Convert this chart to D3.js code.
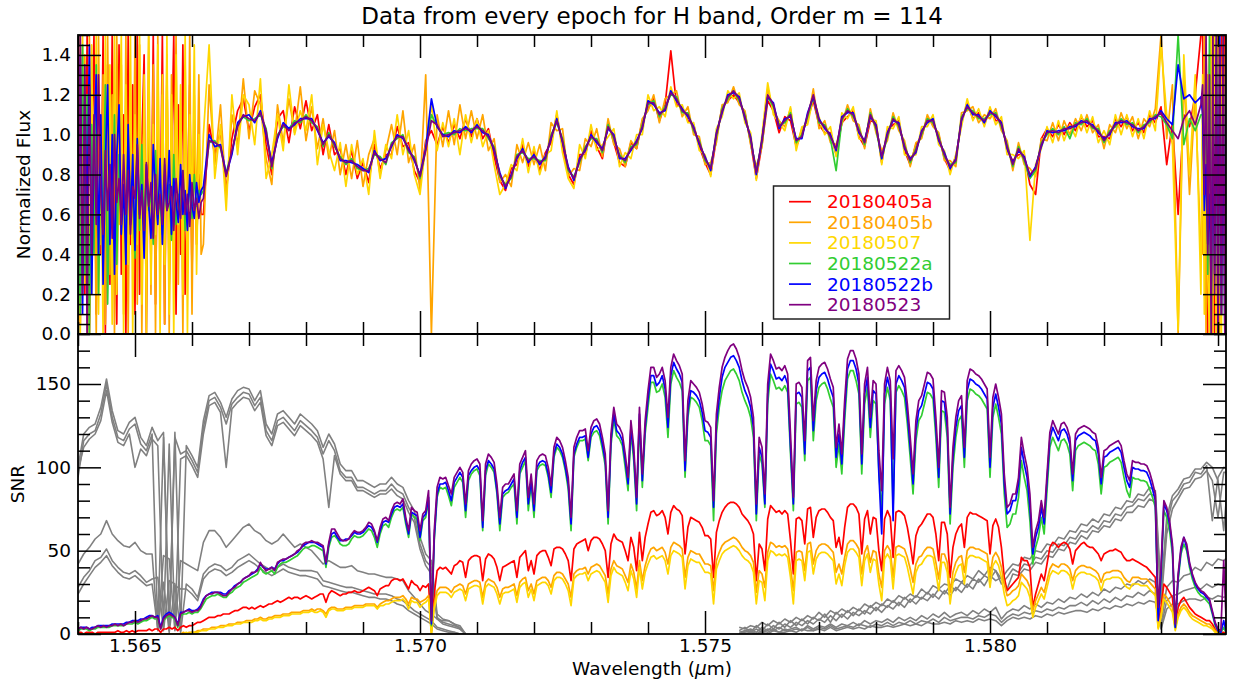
<!DOCTYPE html>
<html>
<head>
<meta charset="utf-8">
<script src="https://cdn.jsdelivr.net/npm/d3@7"></script>
<style>
  html, body { margin: 0; padding: 0; background: #fff; }
  svg { display: block; font-family: "DejaVu Sans", sans-serif; }
</style>
</head>
<body>
<svg id="chart" width="1234" height="680"></svg>
<script>
// ---------------- data ----------------
// Epoch names (legend order = drawing order)
const epochs = ["20180405a", "20180405b", "20180507", "20180522a", "20180522b", "20180523"];

// Wavelength sampling (micron).
// Flux: [start, step, count] segments - finer at the noisy order edges.
const fluxGrid = [[1.564, 0.00004, 55], [1.5662, 0.0001, 176], [1.58373, 0.00003, 15]];
// SNR on a 0.05 nm grid; neighbouring-order SNR on 0.1 nm grids over the overlaps
const snrStart = 1.564, snrStep = 0.00005;
const adjLeftStart = 1.564, adjRightStart = 1.5756, adjStep = 0.0001;

// Normalized flux per epoch (left edge | order interior | right edge)
const flux0405a = [
1.50,0.05,1.30,0.20,1.50,0.00,0.90,1.50,0.10,1.20, 0.40,1.50,0.00,1.35,0.25,1.50,0.60,0.05,1.45,0.30,
1.10,0.00,1.50,0.45,1.25,0.10,1.50,0.20,0.95,1.40, 0.00,1.20,0.35,1.50,0.15,1.05,0.50,1.50,0.05,1.30,
0.25,0.85,1.50,0.10,1.15,0.40,1.45,0.20,0.70,1.25, 0.30,1.05,0.45,0.80,0.60,
0.60,1.05,0.90,1.02,0.72,0.98,1.12,1.18,
1.02,1.14,1.20,0.95,0.80,1.08,1.12,0.96,1.14,1.03,
1.17,1.02,1.10,0.90,1.05,0.90,0.93,0.80,0.92,0.78,
0.86,0.76,0.95,0.83,0.90,0.90,1.04,0.94,0.96,0.82,
0.76,0.97,1.02,0.95,1.04,0.96,1.05,0.98,1.08,0.99,
1.08,0.98,1.03,0.89,0.77,0.72,0.83,0.85,0.95,0.84,
0.92,0.82,0.91,0.96,1.10,0.94,0.80,0.75,0.90,0.90,
1.02,0.94,0.88,1.06,0.96,0.86,0.84,0.96,0.93,1.07,
1.13,1.18,1.07,1.15,1.42,1.15,1.14,1.07,1.05,0.94,
0.86,0.80,0.98,1.14,1.17,1.20,1.16,1.11,0.96,0.78,
0.95,1.17,1.12,1.01,1.09,1.07,0.94,1.01,1.08,1.17,
1.05,1.01,1.01,0.90,1.06,1.09,1.12,0.99,0.94,1.07,
1.06,0.86,1.02,1.05,1.07,0.92,0.85,0.95,0.99,1.09,
1.05,1.00,0.88,0.82,0.89,1.06,1.16,1.08,1.11,1.05,
1.13,1.07,1.07,0.92,0.87,0.90,0.90,0.75,0.70,0.98,
1.03,0.99,1.05,1.00,1.06,1.02,1.09,1.04,1.07,0.99,
0.99,0.98,1.08,1.04,1.09,1.02,1.06,1.01,1.10,1.06,
1.14,0.85,1.06,0.60,1.10,1.04,1.20,1.50,
1.50,0.60,1.50,0.00,1.40,0.30,1.50,0.00,1.20,1.50,0.10,1.50,0.40,1.50,0.00];
const flux0405b = [
0.00,1.50,0.35,1.40,0.00,1.50,0.20,1.10,0.00,1.50, 0.45,1.30,0.05,1.50,0.30,1.20,0.00,1.50,0.55,1.35,
0.10,1.50,0.00,1.25,0.40,1.50,0.15,1.45,0.00,1.10, 0.50,1.50,0.20,1.35,0.00,1.50,0.35,1.20,0.05,1.40,
0.00,1.30,0.50,1.50,0.25,1.15,0.00,1.35,0.40,1.50, 0.10,1.20,0.55,1.30,0.40,
0.45,1.25,0.85,1.15,0.68,1.10,0.95,1.28,
0.98,1.22,1.15,0.88,0.75,1.15,0.96,1.18,1.01,1.24,
0.97,1.14,0.93,1.08,0.88,1.02,0.80,0.95,0.78,0.97,
0.74,0.90,0.98,0.80,0.92,1.05,0.90,1.12,0.86,0.95,
0.72,1.30,0.00,1.10,0.94,1.12,0.95,1.15,0.98,1.12,
0.98,1.10,0.92,0.98,0.76,0.80,0.74,0.95,0.86,0.96,
0.85,0.95,0.82,1.06,1.02,1.03,0.79,0.83,0.82,0.98,
0.94,1.03,0.89,1.08,0.95,0.93,0.84,0.97,0.93,1.08,
1.12,1.20,1.06,1.18,1.20,1.22,1.09,1.14,1.00,0.99,
0.85,0.86,0.96,1.15,1.16,1.24,1.15,1.12,0.95,0.84,
0.94,1.23,1.12,1.07,1.04,1.13,0.94,1.03,1.07,1.23,
1.03,1.07,0.96,0.95,1.05,1.15,1.07,1.05,0.93,1.13,
1.01,0.92,0.97,1.11,1.02,0.97,0.84,0.96,0.98,1.10,
1.04,1.01,0.87,0.87,0.84,1.11,1.12,1.14,1.06,1.10,
1.08,1.13,1.02,0.97,0.82,0.96,0.85,0.83,0.79,0.98,
0.97,1.06,0.97,1.07,1.00,1.08,1.02,1.10,1.01,1.05,
0.93,1.05,1.01,1.11,1.03,1.09,0.98,1.08,1.04,1.13,
1.50,0.98,1.25,0.00,1.30,0.70,1.20,0.40,
0.40,1.50,0.00,1.30,0.20,1.50,0.00,1.45,0.10,1.50,0.00,1.20,1.50,0.00,1.50];
const flux0507 = [
1.30,0.00,1.50,0.25,1.20,0.00,1.45,0.40,1.50,0.10, 1.00,0.00,1.50,0.30,1.35,0.05,1.50,0.20,0.90,1.50,
0.00,1.25,0.35,1.50,0.00,1.10,0.45,1.50,0.15,1.30, 0.00,1.50,0.25,1.05,0.50,1.45,0.00,1.30,0.35,1.50,
0.10,1.20,0.00,1.40,0.55,1.25,0.20,1.50,0.00,1.10, 0.60,1.45,0.30,1.00,0.70,
1.00,1.45,0.78,1.05,0.62,1.20,0.90,1.20,
1.15,0.95,1.28,0.78,0.90,1.10,0.92,1.25,1.00,1.12,
1.02,1.20,0.85,1.05,0.92,0.82,0.96,0.74,0.95,0.80,
0.88,0.70,1.02,0.78,0.95,0.88,1.10,0.90,1.02,0.80,
0.70,0.95,1.15,0.92,1.06,0.94,1.08,0.90,1.10,0.96,
1.08,0.94,1.02,0.85,0.70,0.75,0.85,0.82,0.98,0.81,
0.94,0.80,0.90,0.92,1.12,0.91,0.78,0.73,0.95,0.88,
1.05,0.92,0.95,0.99,1.03,0.84,0.91,0.88,1.00,1.00,
1.20,1.12,1.14,1.09,1.24,1.14,1.15,1.06,1.06,0.92,
0.90,0.79,1.03,1.09,1.22,1.18,1.21,1.06,1.01,0.77,
1.00,1.26,1.10,1.06,1.02,1.14,0.92,1.04,1.05,1.19,
1.09,1.00,1.04,0.89,1.11,1.08,1.14,0.98,0.97,1.08,
1.07,0.85,1.04,1.03,1.09,0.90,0.89,0.90,1.04,1.04,
1.10,0.95,0.92,0.80,0.90,1.04,1.18,1.07,1.13,1.04,
1.14,1.05,1.09,0.90,0.90,0.88,0.92,0.47,0.85,0.93,
1.04,0.96,1.07,0.97,1.05,0.99,1.10,1.01,1.09,0.96,
1.02,0.95,1.10,1.00,1.10,0.99,1.08,0.98,1.12,1.02,
1.45,1.10,0.95,0.02,1.40,0.80,1.30,0.20,
1.30,0.10,1.50,0.30,0.00,1.50,0.20,1.50,0.00,1.35,0.50,0.00,1.50,0.20,1.40];
const flux0522a = [
0.80,0.10,1.45,0.30,1.20,0.00,1.05,0.40,1.35,0.20, 0.95,0.50,1.25,0.15,0.85,0.60,1.10,0.35,0.90,0.55,
0.75,0.45,1.00,0.60,0.70,0.38,0.88,0.52,0.95,0.48, 0.80,0.62,0.72,0.45,0.92,0.58,0.68,0.50,0.85,0.62,
0.75,0.47,0.90,0.55,0.70,0.60,0.82,0.52,0.66,0.74, 0.58,0.80,0.64,0.72,0.70,
0.72,0.96,0.97,0.93,0.81,0.91,1.05,1.09,
1.07,1.08,1.10,1.03,0.83,1.00,1.04,1.03,1.07,1.06,
1.10,1.06,1.04,0.94,1.01,0.94,0.89,0.85,0.88,0.83,
0.82,0.83,0.90,0.89,0.85,0.96,0.98,1.00,0.91,0.89,
0.78,0.93,1.10,1.04,1.00,1.01,1.00,1.03,1.02,1.03,
1.03,1.03,0.98,0.94,0.79,0.75,0.78,0.90,0.91,0.88,
0.88,0.87,0.87,1.00,1.06,0.98,0.82,0.79,0.86,0.94,
0.98,0.98,0.91,1.05,0.98,0.90,0.86,0.94,0.95,1.05,
1.15,1.17,1.09,1.14,1.20,1.19,1.11,1.11,1.02,0.97,
0.87,0.84,0.99,1.13,1.18,1.22,1.17,1.10,0.97,0.82,
0.96,1.19,1.14,1.05,1.06,1.11,0.96,1.00,1.09,1.19,
1.06,1.05,0.98,0.82,1.07,1.13,1.09,1.03,0.95,1.11,
1.03,0.88,0.99,1.09,1.04,0.95,0.86,0.93,1.00,1.08,
1.06,0.99,0.89,0.85,0.86,1.09,1.13,1.12,1.08,1.08,
1.10,1.11,1.04,0.95,0.84,0.94,0.87,0.78,0.82,0.96,
1.00,1.03,1.00,1.04,0.98,1.06,1.05,1.08,1.03,1.03,
0.96,1.02,1.04,1.08,1.05,1.06,1.01,1.05,1.06,1.10,
1.09,1.05,0.98,1.50,0.95,1.08,1.02,1.10,
1.10,0.70,1.35,0.30,1.50,0.00,1.20,0.40,1.50,0.00,1.30,0.10,1.50,0.00,1.20];
const flux0522b = [
0.30,1.40,0.10,1.20,0.55,1.45,0.20,0.95,1.30,0.40, 1.10,0.25,0.85,1.25,0.45,1.00,0.30,0.90,1.15,0.50,
0.75,0.35,1.05,0.55,0.90,0.42,0.98,0.60,0.75,0.38, 0.85,0.65,0.48,0.95,0.70,0.55,0.88,0.45,0.80,0.62,
0.92,0.50,0.78,0.66,0.56,0.85,0.60,0.72,0.52,0.80, 0.64,0.58,0.76,0.66,0.72,
0.74,1.00,0.94,0.95,0.80,0.90,1.06,1.09,
1.10,1.06,1.12,1.00,0.86,0.98,1.06,1.03,1.05,1.08,
1.08,1.08,1.02,0.96,0.99,0.96,0.87,0.87,0.86,0.85,
0.83,0.81,0.92,0.87,0.88,0.94,1.00,0.98,0.93,0.87,
0.80,0.93,1.18,1.04,1.00,0.99,1.02,1.01,1.04,1.01,
1.05,1.01,1.00,0.92,0.81,0.73,0.80,0.88,0.93,0.86,
0.90,0.85,0.89,0.98,1.08,0.96,0.84,0.77,0.88,0.92,
1.00,0.96,0.93,1.03,1.00,0.88,0.88,0.92,0.97,1.03,
1.17,1.15,1.11,1.12,1.22,1.17,1.13,1.09,1.04,0.95,
0.89,0.82,1.01,1.11,1.20,1.21,1.19,1.08,0.99,0.80,
0.98,1.19,1.16,1.03,1.08,1.09,0.98,0.98,1.11,1.19,
1.08,1.03,1.00,0.92,1.09,1.11,1.11,1.01,0.97,1.09,
1.05,0.88,1.01,1.07,1.06,0.93,0.88,0.91,1.02,1.06,
1.08,0.97,0.91,0.83,0.88,1.07,1.15,1.10,1.10,1.06,
1.12,1.09,1.06,0.93,0.86,0.92,0.89,0.79,0.84,0.94,
1.02,1.01,1.02,1.02,1.04,1.04,1.07,1.06,1.05,1.01,
0.98,1.00,1.06,1.06,1.07,1.04,1.03,1.03,1.08,1.08,
1.12,1.08,1.05,1.35,1.18,1.20,1.16,1.19,
1.10,0.62,0.85,0.45,0.70,0.20,1.00,0.30,1.40,0.00,1.50,0.10,1.30,0.00,1.50];
const flux0523 = [
0.10,1.50,0.20,1.35,0.00,1.25,0.40,1.10,0.55,1.30, 0.70,0.50,0.92,0.62,0.85,0.48,1.00,0.66,0.78,0.55,
0.90,0.60,0.82,0.50,0.74,0.68,0.95,0.58,0.72,0.52, 0.86,0.64,0.76,0.48,0.80,0.60,0.70,0.55,0.88,0.62,
0.66,0.74,0.52,0.78,0.64,0.58,0.82,0.60,0.70,0.54, 0.76,0.62,0.68,0.58,0.66,
0.68,0.97,0.96,0.94,0.79,0.92,1.04,1.10,
1.08,1.07,1.11,1.02,0.84,0.99,1.05,1.02,1.06,1.07,
1.09,1.07,1.03,0.95,1.00,0.95,0.88,0.86,0.87,0.84,
0.82,0.82,0.91,0.88,0.86,0.95,0.99,0.99,0.92,0.88,
0.79,0.92,1.07,1.05,0.99,1.00,1.01,1.02,1.03,1.02,
1.04,1.02,0.99,0.93,0.80,0.74,0.79,0.89,0.92,0.87,
0.89,0.86,0.88,0.99,1.07,0.97,0.83,0.78,0.87,0.93,
0.99,0.97,0.92,1.04,0.99,0.89,0.87,0.93,0.96,1.04,
1.16,1.16,1.10,1.13,1.21,1.18,1.12,1.10,1.03,0.96,
0.88,0.83,1.00,1.12,1.19,1.22,1.18,1.09,0.98,0.81,
0.97,1.20,1.15,1.04,1.07,1.10,0.97,0.99,1.10,1.20,
1.07,1.04,0.99,0.93,1.08,1.12,1.10,1.02,0.96,1.10,
1.04,0.89,1.00,1.08,1.05,0.94,0.87,0.92,1.01,1.07,
1.07,0.98,0.90,0.84,0.87,1.08,1.14,1.11,1.09,1.07,
1.11,1.10,1.05,0.94,0.85,0.93,0.88,0.80,0.83,0.95,
1.01,1.02,1.01,1.03,1.03,1.05,1.06,1.07,1.04,1.02,
0.97,1.01,1.05,1.07,1.06,1.05,1.02,1.04,1.07,1.09,
1.11,1.06,1.02,0.98,1.08,1.12,1.05,1.15,
1.25,0.70,1.50,0.40,1.30,0.00,1.50,0.20,1.50,0.00,1.45,0.10,1.50,0.00,1.50];

// Signal-to-noise ratio per epoch
const snr0405a = [
1,1,0,1,1,1,0,1,1,1, 1,1,1,1,2,1,1,2,1,2, 1,2,2,2,2,3,2,3,3,1, 3,3,4,3,4,2,4,5,4,5,
5,6,7,7,8,9,10,10,10,11, 11,12,12,12,13,14,14,15,16,16, 15,16,15,16,17,16,17,18,18,19,
20,19,20,21,22,21,22,22,21,22, 23,22,21,22,23,24,24,19,24,26, 25,24,23,24,24,25,25,26,25,25,
26,27,28,27,26,23,27,28,29,29, 32,33,33,32,33,30,27,32,30,29, 26,29,28,30,2,24,38,40,39,40,
38,36,41,42,44,43,34,44,46,47, 47,46,32,45,48,47,45,40,32,40, 41,42,43,44,34,46,48,50,38,44,
36,47,49,50,50,46,41,51,52,52, 51,48,44,32,51,54,55,56,57,50, 56,58,58,57,54,50,34,54,60,57,
56,55,50,44,58,52,38,61,44,58, 66,73,74,71,72,74,70,60,73,77, 75,74,71,48,64,70,69,68,67,64,
59,59,57,34,61,68,73,76,78,79, 79,78,76,72,70,68,65,60,32,54, 51,38,69,77,75,73,74,72,74,72,
56,36,69,70,68,54,75,76,58,70, 74,75,75,73,70,68,52,58,48,64, 76,78,78,76,72,48,69,74,60,70,
69,50,38,69,74,70,46,73,74,73, 71,64,54,42,59,64,66,69,72,72, 70,60,44,67,67,60,34,52,60,64,
66,52,70,73,72,72,71,70,69,68, 48,65,69,64,52,34,26,28,30,32, 34,46,44,44,40,16,24,30,36,32,
42,52,55,54,52,54,55,54,51,42, 50,52,54,55,53,52,52,50,48,44, 48,49,50,50,51,50,49,46,44,44,
45,44,43,42,41,40,38,36,34,6, 16,30,28,25,22,4,16,20,22,19, 16,14,12,11,10,9,8,8,6,3,
1,1,1,0];
const snr0405b = [
0,0,0,0,0,0,0,0,0,0, 0,0,0,0,0,0,0,0,0,0, 0,0,0,0,0,0,0,0,0,0, 0,0,0,0,0,0,0,1,0,1,
1,1,2,2,3,3,3,4,4,4, 5,5,5,6,6,6,7,7,7,8, 8,8,9,9,10,9,9,10,10,11,
11,11,12,12,12,13,13,13,13,14, 14,14,15,14,15,15,14,12,15,16, 16,15,15,15,16,16,16,17,17,17,
17,18,18,18,18,16,18,19,20,20, 21,22,22,22,23,21,18,22,21,21, 19,20,21,23,0,18,26,28,28,28,
27,25,28,29,30,29,24,30,31,32, 32,31,22,31,33,32,31,28,22,27, 28,28,29,30,23,31,33,34,26,30,
24,32,33,34,34,32,28,35,37,37, 36,33,30,22,36,38,39,39,40,36, 40,41,42,41,38,35,24,39,44,41,
40,39,35,31,42,37,27,44,32,41, 47,51,52,50,51,52,49,42,52,55, 54,53,51,34,46,50,49,48,48,45,
42,42,41,26,44,49,53,55,56,57, 58,57,55,52,50,49,47,43,25,38, 36,28,49,55,54,52,53,52,53,51,
40,26,49,50,49,38,54,55,42,50, 53,54,54,53,51,49,37,42,36,46, 54,56,56,54,51,36,49,53,43,50,
49,36,28,50,53,50,34,52,53,52, 51,46,39,31,42,46,47,50,52,52, 51,43,33,48,48,43,25,37,43,46,
47,37,50,52,52,51,51,50,49,48, 35,46,49,46,40,30,23,24,26,27, 29,36,34,32,28,14,20,24,28,25,
32,39,42,41,40,42,42,41,39,32, 38,40,41,41,40,40,39,38,36,31, 36,37,37,38,38,38,37,34,32,31,
34,34,34,33,33,33,31,29,27,4, 12,24,22,19,16,3,12,16,18,16, 13,11,10,9,8,7,6,6,4,2,
1,0,0,0];
const snr0507 = [
0,0,0,0,0,0,0,0,0,0, 0,0,0,0,0,0,0,0,0,0, 0,0,0,0,0,0,0,0,0,0, 0,0,0,0,0,0,0,0,1,0,
1,1,1,2,2,2,3,3,3,4, 4,4,5,5,5,6,6,6,7,7, 7,7,8,8,9,8,8,9,9,10,
10,10,11,11,11,12,12,12,12,13, 13,13,14,13,13,14,13,10,14,15, 15,14,14,14,15,15,15,16,16,16,
16,17,17,17,17,15,17,17,18,18, 19,20,20,20,21,19,15,20,19,19, 16,18,19,21,0,15,23,25,25,25,
24,22,25,26,27,26,20,27,28,29, 29,28,18,28,30,29,28,24,18,24, 25,25,26,27,19,28,30,31,22,27,
20,29,30,31,31,29,24,32,34,34, 33,30,26,17,33,35,36,36,37,32, 36,37,38,37,34,31,19,35,40,37,
36,35,31,26,38,33,22,40,27,37, 42,46,47,45,46,47,44,36,47,50, 49,48,46,27,41,45,44,43,43,40,
37,37,36,18,39,44,48,50,51,52, 53,52,50,47,45,44,42,37,18,32, 31,20,44,50,49,47,48,47,48,46,
34,18,44,45,44,32,49,50,36,45, 48,49,49,48,46,44,30,36,29,41, 49,51,51,49,46,29,44,48,37,45,
44,30,20,45,48,45,27,47,48,47, 46,40,32,24,37,41,42,45,47,47, 46,37,26,43,43,37,18,31,37,41,
42,30,45,47,47,46,46,45,44,43, 28,41,44,41,34,24,17,18,20,21, 23,31,29,27,22,10,16,20,24,21,
28,35,38,37,36,38,38,37,35,27, 34,36,37,37,36,36,35,34,32,26, 32,33,33,34,34,34,33,30,28,27,
30,30,30,29,29,29,27,25,23,3, 10,21,19,16,13,2,10,14,16,14, 11,9,8,7,6,5,5,4,3,1,
0,0,0,0];
const snr0522a = [
2,3,3,3,2,3,3,4,4,4, 4,4,5,5,5,5,5,6,6,6, 7,6,7,8,8,9,10,9,9,3, 8,10,11,10,9,4,11,12,12,13,
12,13,13,15,18,21,22,23,23,24, 23,22,22,24,25,27,28,29,31,32, 33,34,35,36,40,37,36,37,38,36,
40,42,43,43,44,45,46,47,49,51, 52,52,53,53,52,51,50,40,52,58, 59,57,54,53,53,54,57,59,58,58,
59,61,63,62,58,52,60,65,66,64, 70,74,75,74,76,66,58,72,70,69, 56,68,70,80,5,56,82,88,87,88,
83,77,88,91,94,91,70,92,96,98, 99,95,62,95,102,100,97,84,62,82, 84,85,88,90,66,96,100,104,74,90,
70,98,101,102,101,94,82,106,112,110, 106,98,87,62,106,112,116,116,117,104, 118,121,122,119,111,101,66,113,129,119,
117,113,100,86,121,104,74,128,88,120, 136,151,151,145,146,150,142,118,150,158, 154,151,146,94,130,142,141,139,136,128,
116,116,113,68,120,136,146,152,155,158, 159,156,152,145,140,136,130,118,68,108, 102,76,138,156,152,147,148,146,149,145,
108,74,138,139,136,104,152,154,116,140, 148,150,151,147,141,136,100,114,96,128, 153,158,158,152,144,96,138,148,118,140,
138,98,72,138,148,140,76,145,149,146, 142,126,106,84,116,128,131,138,145,144, 141,118,88,134,133,118,66,100,118,128,
131,100,140,147,146,144,143,141,138,135, 94,130,138,130,120,84,64,66,72,72, 82,104,94,86,68,42,52,58,70,60,
86,112,118,114,110,116,117,114,108,86, 110,113,114,115,114,113,111,110,102,84, 100,101,103,104,105,106,103,94,86,82,
94,93,93,92,92,91,87,82,76,12, 34,74,70,62,48,4,32,48,54,50, 40,33,28,25,23,22,20,18,12,5,
2,1,4,0];
const snr0522b = [
3,4,4,4,3,4,4,5,5,5, 5,5,6,6,6,6,6,7,7,8, 8,8,9,9,10,11,11,10,11,4, 10,12,13,12,10,6,13,13,14,15,
14,14,15,17,21,23,24,25,25,25, 25,24,24,26,27,29,30,31,33,34, 35,36,37,39,42,40,39,39,40,39,
42,44,44,45,46,47,48,49,51,53, 54,55,55,55,54,53,52,42,54,60, 61,58,56,56,57,57,59,61,60,60,
61,63,65,64,61,55,62,67,68,67, 72,76,77,76,78,68,60,73,72,71, 58,70,72,82,6,58,84,90,90,91,
86,80,91,94,97,94,74,95,98,100, 101,98,64,98,104,102,99,86,66,84, 86,87,90,93,70,98,103,106,78,92,
74,100,103,104,103,96,85,108,114,112, 108,100,90,66,108,114,118,118,119,106, 120,124,125,122,114,104,70,116,132,122,
120,116,104,90,124,108,78,132,92,124, 141,155,155,149,151,155,147,124,155,163, 159,156,151,98,134,146,145,143,140,133,
122,121,118,76,126,142,154,160,163,166, 167,164,160,152,146,142,136,124,72,112, 106,78,144,162,158,153,154,152,155,150,
112,78,144,145,142,108,158,160,122,146, 154,156,157,153,147,142,106,120,102,134, 159,164,164,159,150,102,144,154,124,146,
144,96,60,144,154,146,68,150,155,152, 148,132,112,90,122,134,137,144,151,150, 147,124,94,140,139,124,72,106,124,134,
137,106,146,153,152,150,149,147,144,141, 100,136,144,136,126,90,72,74,80,80, 90,112,102,94,76,48,58,64,76,66,
92,117,124,120,116,122,123,120,114,92, 116,119,120,121,120,119,117,116,108,90, 106,107,109,110,111,112,109,100,92,88,
100,99,99,98,98,97,93,87,80,8, 36,78,74,66,52,4,34,50,58,52, 42,35,30,27,25,24,22,20,13,6,
2,1,8,0];
const snr0523 = [
3,4,3,4,3,3,4,5,4,5, 4,5,5,6,5,6,5,6,7,7, 8,7,8,9,9,10,11,10,10,3, 9,11,12,11,10,5,12,13,14,14,
13,14,14,16,20,23,24,24,25,25, 24,23,23,25,27,28,30,31,33,34, 35,37,37,38,43,40,38,39,40,38,
43,44,45,45,46,47,48,50,51,54, 55,55,56,55,55,54,53,43,55,63, 63,60,57,56,56,57,60,62,61,61,
62,64,67,66,62,56,64,69,70,68, 74,78,79,78,81,70,62,76,74,73, 62,72,74,86,8,62,88,94,93,94,
89,84,94,97,100,97,78,98,102,104, 105,102,68,102,108,106,103,90,70,88, 90,90,93,96,74,102,106,110,82,96,
78,104,107,108,107,100,89,112,118,116, 112,104,94,70,112,118,122,122,123,110, 124,128,129,126,118,108,74,120,136,126,
124,120,108,94,128,112,82,136,96,128, 146,160,160,154,156,160,152,130,160,168, 164,161,156,104,140,152,150,148,145,138,
128,127,124,80,132,148,160,166,170,173, 174,171,166,158,152,148,142,130,78,118, 112,84,150,168,164,159,160,158,161,156,
120,82,150,151,148,116,164,166,128,152, 160,162,163,159,153,148,112,126,108,140, 165,170,170,165,156,108,150,160,130,152,
150,110,86,150,160,152,105,158,161,158, 154,138,118,96,128,140,143,150,157,156, 153,130,100,146,145,130,76,112,130,140,
143,112,152,159,158,156,155,153,150,147, 106,142,150,142,132,96,76,78,84,84, 94,118,108,100,84,52,62,68,80,70,
96,121,128,124,120,126,127,124,118,96, 120,123,124,125,124,123,121,120,112,94, 110,111,113,114,115,116,113,104,96,92,
104,103,103,102,102,101,97,91,84,16, 40,80,76,68,54,6,36,52,58,54, 43,36,31,28,26,25,23,21,14,7,
3,2,44,1];

// SNR of the neighbouring orders where they overlap this one (grey)
const adjLeft = [
 [94,116,120,122,132,150,130,118,116,123, 126,114,110,120,3,118,2,118,108,110, 104,97,124,140,142,136,126,138,142,145,
  144,137,142,122,116,128,130,126,122,128, 125,122,118,108,116,110,98,94,94,88, 88,86,84,86,86,90,86,84,76,70,
  54,44,40,10,7,6,5,4,0],
 [98,112,117,120,128,146,127,115,113,120, 100,111,107,117,113,4,114,3,105,107, 101,94,120,137,139,133,100,135,139,142,
  141,134,139,119,113,125,127,123,119,125, 122,119,115,105,76,107,96,92,92,86, 86,84,82,84,84,87,83,81,73,67,
  51,41,36,9,6,5,4,3,0],
 [100,120,124,126,136,153,134,122,120,127, 130,118,113,124,116,121,4,121,2,113, 107,100,128,143,145,139,130,141,146,148,
  147,140,146,126,120,132,134,130,126,132, 129,126,122,112,120,114,102,98,98,92, 92,90,88,90,90,94,90,88,80,74,
  58,48,44,12,9,8,6,5,0],
 [42,48,52,57,60,68,60,56,53,52, 55,50,48,48,2,47,45,2,44,42, 40,38,55,62,62,58,52,56,60,64,
  66,62,60,56,54,56,60,56,52,54, 52,50,46,42,44,42,40,40,41,38, 37,36,36,35,34,34,33,32,26,22,
  18,14,12,9,8,8,6,3,0],
 [28,34,38,44,46,51,44,40,37,36, 38,35,31,33,34,2,32,30,1,30, 27,22,36,40,42,41,38,40,44,46,
  48,45,42,40,38,40,42,40,39,38, 38,38,37,32,31,30,29,28,28,27, 26,25,24,24,24,23,21,20,17,14,
  12,10,8,4,3,2,1,0,0],
 [24,30,35,40,43,47,41,37,34,33, 35,32,29,30,3,31,1,29,27,27, 24,20,33,37,39,38,35,37,40,42,
  44,42,39,37,35,37,39,37,36,35, 35,34,33,29,28,27,26,25,25,24, 23,22,22,21,21,20,18,17,14,12,
  10,8,6,3,2,1,1,0,0]
];
const adjRight = [
 [2,4,1,5,2,6,3,7,4,8, 5,9,6,10,8,12,7,13,10,14, 11,15,12,17,14,18,16,20,17,22, 19,23,21,25,22,27,24,29,26,31,
  28,33,31,35,33,38,30,34,39,37, 42,41,46,45,50,49,54,53,58,57, 62,61,65,63,68,67,72,71,76,77,
  81,80,84,83,22,66,80,84,90,91, 97,96,101,68,94,100,99],
 [0,2,3,1,4,2,5,3,6,4, 7,5,8,6,9,7,11,8,12,9, 13,11,14,12,16,13,17,15,19,16, 21,18,22,20,24,21,26,23,28,25,
  30,27,33,29,35,32,34,27,36,35, 39,38,43,42,47,46,51,50,55,54, 59,57,62,61,65,64,69,68,73,73,
  77,76,81,79,18,60,75,81,87,88, 93,94,98,92,70,97,97],
 [4,3,5,4,7,5,8,6,9,7, 10,8,11,9,13,10,14,12,15,13, 16,14,18,16,19,17,21,19,23,21, 24,22,27,24,29,27,30,29,33,31,
  35,33,38,35,40,38,33,38,42,41, 46,45,50,49,54,53,58,57,62,61, 66,65,69,67,72,71,76,75,80,79,
  84,83,88,86,26,70,83,87,93,94, 99,99,103,100,92,62,104],
 [1,2,1,3,1,3,2,4,2,3, 4,2,5,3,5,4,6,4,6,5, 7,5,8,6,8,7,9,7,10,8, 10,8,11,9,12,10,13,10,12,13,
  11,14,12,15,13,16,9,13,15,14, 17,15,18,16,19,18,21,19,22,21, 24,22,25,23,27,25,28,27,30,29,
  32,30,33,31,6,28,32,31,35,36, 40,38,43,41,45,44,47],
 [0,1,2,0,2,1,3,1,3,2, 3,2,4,2,4,3,5,3,4,5, 4,6,5,4,6,5,7,5,7,6, 8,6,8,7,9,7,10,8,9,10,
  10,9,11,10,12,11,7,10,12,11, 13,12,14,13,15,14,16,15,17,17, 19,17,20,18,21,19,22,20,23,22,
  25,23,26,24,4,20,23,24,26,27, 28,27,30,28,30,29,31],
 [0,0,1,0,1,0,2,1,1,2, 1,3,2,2,3,2,4,2,3,4, 3,4,3,5,4,4,5,4,5,6, 5,6,5,7,6,6,7,6,8,7,
  8,7,9,8,9,8,5,8,10,9, 10,9,11,10,12,11,13,12,13,14, 14,13,15,14,16,15,17,16,18,17,
  19,18,20,19,3,15,18,18,20,21, 21,20,22,21,23,22,24]
];

// Axis tick values
const xMajorTicks = [1.565, 1.570, 1.575, 1.580];
const fluxMajorTicks = [0.0, 0.2, 0.4, 0.6, 0.8, 1.0, 1.2, 1.4];
const snrMajorTicks = [0, 50, 100, 150];

// ---------------- layout ----------------
const colors = ["#ff0000", "#ffa500", "#ffd700", "#32cd32", "#0000ff", "#800080"];
const greyColor = "#808080";
const L = 78, R = 1226, T1 = 35, B1 = 334, T2 = 334, B2 = 634;
const fontSize = 18.5;

const svg = d3.select("#chart");

const x = d3.scaleLinear().domain([1.564, 1.58414]).range([L, R]);
const yFlux = d3.scaleLinear().domain([0, 1.5]).range([B1, T1]);
const ySnr = d3.scaleLinear().domain([0, 180]).range([B2, T2]);

const grid = (start, step, n) => d3.range(n).map(i => start + i * step);
const fluxWave = fluxGrid.flatMap(([start, step, n]) => grid(start, step, n));
const snrWave = grid(snrStart, snrStep, snr0523.length);
const adjLeftWave = grid(adjLeftStart, adjStep, adjLeft[0].length);
const adjRightWave = grid(adjRightStart, adjStep, adjRight[0].length);

const defs = svg.append("defs");
defs.append("clipPath").attr("id", "clipFlux")
  .append("rect").attr("x", L).attr("y", T1).attr("width", R - L).attr("height", B1 - T1);
defs.append("clipPath").attr("id", "clipSnr")
  .append("rect").attr("x", L).attr("y", T2).attr("width", R - L).attr("height", B2 - T2);

function drawSeries(g, wave, values, yScale, color, width) {
  const line = d3.line().x((d, i) => x(wave[i])).y(d => yScale(d));
  g.append("path").datum(values)
    .attr("d", line)
    .attr("fill", "none")
    .attr("stroke", color)
    .attr("stroke-width", width)
    .attr("stroke-linejoin", "round");
}

// Top panel: normalized flux
const fluxSeries = [flux0405a, flux0405b, flux0507, flux0522a, flux0522b, flux0523];
const gFlux = svg.append("g").attr("clip-path", "url(#clipFlux)");
fluxSeries.forEach((s, i) => drawSeries(gFlux, fluxWave, s, yFlux, colors[i], 1.7));

// Bottom panel: SNR
const snrSeries = [snr0405a, snr0405b, snr0507, snr0522a, snr0522b, snr0523];
const gSnr = svg.append("g").attr("clip-path", "url(#clipSnr)");
adjLeft.forEach(s => drawSeries(gSnr, adjLeftWave, s, ySnr, greyColor, 1.6));
adjRight.forEach(s => drawSeries(gSnr, adjRightWave, s, ySnr, greyColor, 1.6));
snrSeries.forEach((s, i) => drawSeries(gSnr, snrWave, s, ySnr, colors[i], 1.7));

// ---------------- ticks ----------------
const steps = (a, b, step) => d3.range(Math.round(a / step), Math.round(b / step) + 1).map(n => +(n * step).toFixed(6));
const notIn = majors => v => !majors.some(m => Math.abs(m - v) < 1e-9);
const xMinorTicks = steps(1.564, 1.584, 0.001).filter(notIn(xMajorTicks));
const fluxMinorTicks = steps(0, 1.5, 0.05).filter(notIn(fluxMajorTicks));
const snrMinorTicks = steps(0, 180, 10).filter(notIn(snrMajorTicks));

function tickRow(axisFn, scale, values, size, tx, ty) {
  const g = svg.append("g").attr("transform", `translate(${tx},${ty})`)
    .call(axisFn(scale).tickValues(values).tickSize(size).tickFormat(""));
  g.select(".domain").remove();
  g.selectAll("line").attr("stroke", "#000").attr("stroke-width", 1.5);
}
const MAJ = 23, MIN = 12;
// x ticks (inward) on all horizontal edges
[[d3.axisBottom, T1], [d3.axisTop, B1], [d3.axisBottom, T2], [d3.axisTop, B2]].forEach(([fn, y]) => {
  tickRow(fn, x, xMajorTicks, MAJ, 0, y);
  tickRow(fn, x, xMinorTicks, MIN, 0, y);
});
// y ticks (inward) on both sides
tickRow(d3.axisRight, yFlux, fluxMajorTicks, MAJ, L, 0);
tickRow(d3.axisRight, yFlux, fluxMinorTicks, MIN, L, 0);
tickRow(d3.axisLeft, yFlux, fluxMajorTicks, MAJ, R, 0);
tickRow(d3.axisLeft, yFlux, fluxMinorTicks, MIN, R, 0);
tickRow(d3.axisRight, ySnr, snrMajorTicks, MAJ, L, 0);
tickRow(d3.axisRight, ySnr, snrMinorTicks, MIN, L, 0);
tickRow(d3.axisLeft, ySnr, snrMajorTicks, MAJ, R, 0);
tickRow(d3.axisLeft, ySnr, snrMinorTicks, MIN, R, 0);

function labelAxis(g) {
  g.select(".domain").remove();
  g.attr("font-family", "DejaVu Sans").attr("font-size", fontSize);
  g.selectAll("text").attr("fill", "#000");
}
svg.append("g").attr("transform", `translate(0,${B2})`)
  .call(d3.axisBottom(x).tickValues(xMajorTicks).tickSize(0).tickPadding(5).tickFormat(d3.format(".3f")))
  .call(labelAxis);
svg.append("g").attr("transform", `translate(${L},0)`)
  .call(d3.axisLeft(yFlux).tickValues(fluxMajorTicks).tickSize(0).tickPadding(7).tickFormat(d3.format(".1f")))
  .call(labelAxis);
svg.append("g").attr("transform", `translate(${L},0)`)
  .call(d3.axisLeft(ySnr).tickValues(snrMajorTicks).tickSize(0).tickPadding(7).tickFormat(d3.format("d")))
  .call(labelAxis);

// panel frames
[[T1, B1], [T2, B2]].forEach(([t, b]) => {
  svg.append("rect").attr("x", L).attr("y", t).attr("width", R - L).attr("height", b - t)
    .attr("fill", "none").attr("stroke", "#000").attr("stroke-width", 1.8);
});

// ---------------- text ----------------
svg.append("text").attr("x", (L + R) / 2).attr("y", 23.5)
  .attr("text-anchor", "middle").attr("font-size", 23).attr("fill", "#000")
  .text("Data from every epoch for H band, Order m = 114");

const xl = svg.append("text").attr("x", (L + R) / 2).attr("y", 675)
  .attr("text-anchor", "middle").attr("font-size", fontSize).attr("fill", "#000");
xl.append("tspan").text("Wavelength (");
xl.append("tspan").attr("font-style", "italic").text("μ");
xl.append("tspan").text("m)");

svg.append("text").attr("transform", `translate(30,${(T1 + B1) / 2}) rotate(-90)`)
  .attr("text-anchor", "middle").attr("font-size", fontSize).attr("fill", "#000")
  .text("Normalized Flux");
svg.append("text").attr("transform", `translate(24,${(T2 + B2) / 2}) rotate(-90)`)
  .attr("text-anchor", "middle").attr("font-size", fontSize).attr("fill", "#000")
  .text("SNR");

// ---------------- legend ----------------
const legend = svg.append("g");
legend.append("rect").attr("x", 773.5).attr("y", 186).attr("width", 176).attr("height", 133)
  .attr("fill", "#fff").attr("stroke", "#222").attr("stroke-width", 1.5);
const rows = legend.selectAll("g.row").data(epochs).join("g")
  .attr("class", "row")
  .attr("transform", (d, i) => `translate(0,${201.7 + i * 20.6})`);
rows.append("line").attr("x1", 789).attr("x2", 811).attr("y1", 0).attr("y2", 0)
  .attr("stroke", (d, i) => colors[i]).attr("stroke-width", 1.7);
rows.append("text").attr("x", 827).attr("y", 0).attr("dy", "0.35em")
  .attr("font-size", fontSize).attr("fill", (d, i) => colors[i]).text(d => d);
</script>
</body>
</html>
